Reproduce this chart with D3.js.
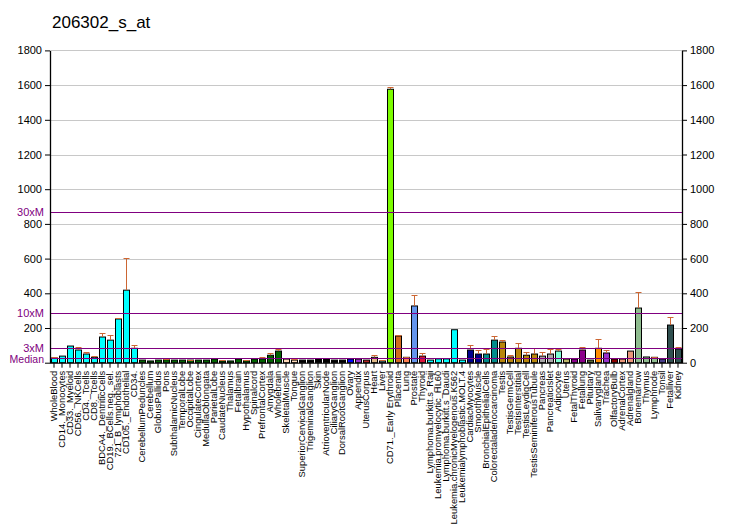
<!DOCTYPE html>
<html><head><meta charset="utf-8">
<script src="https://cdn.jsdelivr.net/npm/d3@7"></script>
<style>body{margin:0;background:#fff}svg{display:block}text{font-family:Arial,"Liberation Sans",sans-serif}</style>
</head><body><svg id="c" width="732" height="530"></svg>
<script>
const categories=["WholeBlood","CD14._Monocytes","CD33._Myeloid","CD56._NKCells","CD4._Tcells","CD8._Tcells","BDCA4._DentriticCells","CD19._BCells.neg._sel.","721_B_lymphoblasts","CD105._Endothelial","CD34.","CerebellumPeduncles","Cerebellum","GlobusPallidus","Pons","SubthalamicNucleus","TemporalLobe","OccipitalLobe","CingulateCortex","MedullaOblongata","ParietalLobe","CaudateNucleus","Thalamus","Fetalbrain","Hypothalamus","Spinalcord","PrefrontalCortex","Amygdala","Wholebrain","SkeletalMuscle","Tongue","SuperiorCervicalGanglion","TrigeminalGanglion","Skin","AtrioventricularNode","CiliaryGanglion","DorsalRootGanglion","Ovary","Appendix","UterusCorpus","Heart","Liver","CD71._Early Erythroid","Placenta","Lung","Prostate","Thyroid","Lymphoma.burkitt.s_Raji","Leukemia.promyelocytic_HL60","Lymphoma.burkitt.s_Daudi","Leukemia.chronicMyelogenous.K562","Leukemialymphoblastic.MOLT.4","CardiacMyocytes","SmoothMuscle","BronchialEpithelialCells","Colorectaladenocarcinoma","Testis","TestisGermCell","TestisInterstitial","TestisLeydigCell","TestisSeminiferousTubule","Pancreas","PancreaticIslet","Adipocyte","Uterus","FetalThyroid","Fetallung","Pituitary","Salivarygland","Trachea","OlfactoryBulb","AdrenalCortex","Adrenalgland","Bonemarrow","Thymus","Lymphnode","Tonsil","Fetalliver","Kidney"];
const values=[27,38,96,73,50,31,148,130,252,418,83,15,10,15,17,15,15,15,15,15,21,10,10,21,11,21,22,43,67,21,15,15,15,22,22,15,15,21,21,15,31,10,1576,154,31,327,38,15,22,22,190,15,73,50,50,130,119,33,83,43,50,38,50,67,21,21,73,15,83,56,21,21,67,315,33,31,21,217,79];
const errors=[6,0,0,16,12,6,23,30,4,185,19,0,0,0,4,0,0,3,0,0,0,3,0,0,6,0,9,13,10,0,5,0,0,0,0,0,0,0,0,0,13,5,11,6,3,63,18,0,0,0,0,0,29,23,27,24,12,10,30,19,33,24,29,10,0,0,16,0,53,17,0,0,0,90,0,4,0,46,11];
const colors=["#00FFFF","#00FFFF","#00FFFF","#00FFFF","#00FFFF","#00FFFF","#00FFFF","#00FFFF","#00FFFF","#00FFFF","#00FFFF",
"#006400","#006400","#006400","#006400","#006400","#006400","#006400","#006400","#006400","#006400","#006400","#006400","#006400","#006400","#006400","#006400","#006400","#006400",
"#FFDAB9","#FFDAB9","#000000","#000000","#000000","#000000","#000000","#000000",
"#0000FF","#9932CC","#B22222","#DEB887","#5F9EA0","#7CFC00","#D2691E","#FF7F50","#6495ED","#DC143C",
"#00FFFF","#00FFFF","#00FFFF","#00FFFF","#00FFFF",
"#00008B","#00008B","#008B8B","#008B8B","#B8860B","#B8860B","#B8860B","#B8860B","#B8860B","#A9A9A9","#A9A9A9","#7FFFD4","#BDB76B","#8B008B","#8B008B","#556B2F","#FF8C00","#9932CC","#8B0000","#E9967A","#E9967A","#8FBC8F","#8FBC8F","#8FBC8F","#483D8B","#2F4F4F","#2F4F4F"];
const yTicks=[0,200,400,600,800,1000,1200,1400,1600,1800];
const median=28.9;
const refLines=[{label:"30xM",mult:30},{label:"10xM",mult:10},{label:"3xM",mult:3},{label:"Median",mult:1}];

const svg=d3.select("#c");
const L=50,R=682,T=50.4,B=362.7;
const x=d3.scaleBand().domain(categories).range([L,R]).paddingInner(0.25).paddingOuter(0.125);
const y=d3.scaleLinear().domain([0,1800]).range([B,T]);

svg.append("text").attr("x",52).attr("y",28).attr("font-size",17).attr("fill","#000").text("206302_s_at");

// grid
svg.append("g").selectAll("line").data(yTicks.filter(d=>d>0)).join("line")
 .attr("x1",L).attr("x2",R).attr("y1",d=>Math.round(y(d))+0.5).attr("y2",d=>Math.round(y(d))+0.5)
 .attr("stroke","#C8C8C8").attr("stroke-width",1);

// bars
const g=svg.append("g");
g.selectAll("rect").data(categories).join("rect")
 .attr("x",d=>Math.round(x(d))+0.5).attr("width",x.bandwidth())
 .attr("y",(d,i)=>y(values[i])).attr("height",(d,i)=>B-y(values[i]))
 .attr("fill",(d,i)=>colors[i]).attr("stroke","#000").attr("stroke-width",1);

// error bars
const eg=svg.append("g").attr("stroke","#CC6633").attr("stroke-width",1);
categories.forEach((c,i)=>{
 if(!errors[i])return;
 const cx=Math.round(x(c)+x.bandwidth()/2)+0.5;
 const y0=y(values[i]),y1=Math.round(y(values[i]+errors[i]))+0.5;
 eg.append("line").attr("x1",cx).attr("x2",cx).attr("y1",y0).attr("y2",y1);
 eg.append("line").attr("x1",cx-3).attr("x2",cx+3).attr("y1",y1).attr("y2",y1);
});

// reference lines
refLines.forEach(r=>{
 const yy=Math.round(y(median*r.mult))+0.5;
 svg.append("line").attr("x1",L).attr("x2",R).attr("y1",yy).attr("y2",yy).attr("stroke","#800080").attr("stroke-width",1);
 svg.append("text").attr("x",44).attr("y",yy+(r.mult===1?4:3)).attr("text-anchor","end").attr("font-size",r.mult===1?10.5:11).attr("fill","#800080").text(r.label);
});

// axes
const fmt=d3.format("d");
const la=svg.append("g").attr("transform",`translate(${L},0)`).call(d3.axisLeft(y).tickValues(yTicks).tickFormat(d=>d===0?"":fmt(d)).tickSize(5).tickSizeOuter(0));
const ra=svg.append("g").attr("transform",`translate(${R},0)`).call(d3.axisRight(y).tickValues(yTicks).tickFormat(fmt).tickSize(5).tickSizeOuter(0));
[la,ra].forEach(a=>{a.selectAll("text").attr("font-size",11).attr("fill","#000").style("font-family","Arial,'Liberation Sans',sans-serif");a.selectAll("line,path").attr("stroke","#000");a.select(".domain").attr("stroke-width",1.3);});

const xa=svg.append("g").attr("transform",`translate(0,${B})`).call(d3.axisBottom(x).tickSize(5).tickSizeOuter(0));
xa.select(".domain").attr("stroke","#000").attr("d",`M${L},0.5H${R}`);
xa.selectAll("line").attr("stroke","#000");
xa.selectAll("text").attr("font-size",9.4).attr("fill","#000").style("font-family","Arial,'Liberation Sans',sans-serif")
 .attr("transform","rotate(-90)").attr("text-anchor","end").attr("x",-8).attr("y",0).attr("dy","0.35em");
</script></body></html>
